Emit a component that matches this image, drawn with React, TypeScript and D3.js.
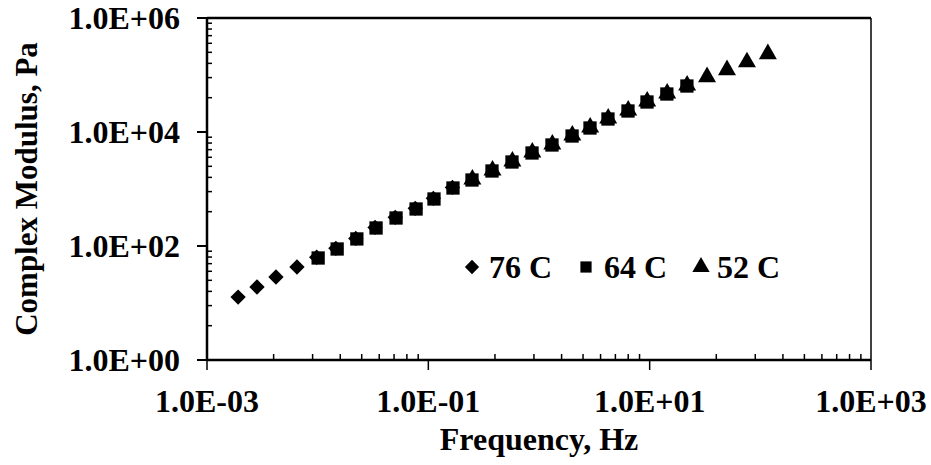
import React, { useEffect, useRef } from 'react';
import * as d3 from 'd3';

// frequency (Hz) / complex modulus (Pa)
const freq76 = [0.00191, 0.00283, 0.0042, 0.0065, 0.0098, 0.0146, 0.0221, 0.033, 0.0502, 0.0762, 0.111, 0.165];
const mod76 = [12.7, 19.1, 28.6, 42.8, 63.5, 91, 136, 212, 318, 458, 685, 1065];

const freq64 = [0.0101, 0.015, 0.0226, 0.0337, 0.0511, 0.0775, 0.1125, 0.167, 0.248, 0.376, 0.57, 0.865, 1.31, 1.99, 2.89, 4.2, 6.37, 9.46, 14.3, 21.7];
const mod64 = [61.6, 88.6, 133, 207, 310, 446, 668, 1041, 1438, 2070, 2977, 4283, 5916, 8505, 11750, 16900, 23360, 33600, 46400, 64100];

const freq52 = [0.25, 0.38, 0.575, 0.87, 1.32, 2.0, 2.9, 4.22, 6.4, 9.5, 14.4, 21.8, 33.0, 50.0, 75.7, 117];
const mod52 = [1480, 2130, 3060, 4400, 6080, 8740, 12080, 17370, 24000, 34500, 47700, 65900, 92300, 122400, 169000, 233600];

const xTickValues = [1e-3, 1e-1, 1e1, 1e3];
const xTickLabels = ['1.0E-03', '1.0E-01', '1.0E+01', '1.0E+03'];
const yTickValues = [1e0, 1e2, 1e4, 1e6];
const yTickLabels = ['1.0E+00', '1.0E+02', '1.0E+04', '1.0E+06'];
const minorSteps = [2, 3, 4, 5, 6, 7, 8, 9];

const seriesNames = ['76 C', '64 C', '52 C'];

const FONT = "'Liberation Serif', 'DejaVu Serif', serif";
const FSIZE = 32;

const App = () => {
    const svgRef = useRef(null);
    const width = 931;
    const height = 465;

    useEffect(() => {
        const margin = { top: 18, right: 60, bottom: 105, left: 207 };
        const innerWidth = width - margin.left - margin.right;
        const innerHeight = height - margin.top - margin.bottom;

        const svg = d3.select(svgRef.current);
        svg.selectAll('*').remove();

        const x = d3.scaleLog().domain([1e-3, 1e3]).range([0, innerWidth]);
        const y = d3.scaleLog().domain([1e0, 1e6]).range([innerHeight, 0]);

        const g = svg.append('g').attr('transform', `translate(${margin.left},${margin.top})`);

        // minor ticks: axis log base 100, so minors sit at base * k^2
        const xMinor = [];
        for (let i = 0; i < xTickValues.length - 1; i++) {
            minorSteps.forEach((k) => xMinor.push(xTickValues[i] * k * k));
        }
        const yMinor = [];
        for (let i = 0; i < yTickValues.length - 1; i++) {
            minorSteps.forEach((k) => yMinor.push(yTickValues[i] * k * k));
        }

        g.selectAll('.xminor').data(xMinor).enter().append('line')
            .attr('x1', (d) => x(d)).attr('x2', (d) => x(d))
            .attr('y1', innerHeight).attr('y2', innerHeight - 6)
            .attr('stroke', '#000').attr('stroke-width', 1.5);

        g.selectAll('.yminor').data(yMinor).enter().append('line')
            .attr('x1', 0).attr('x2', 5)
            .attr('y1', (d) => y(d)).attr('y2', (d) => y(d))
            .attr('stroke', '#000').attr('stroke-width', 1.5);

        // major ticks outside
        g.selectAll('.xmajor').data(xTickValues).enter().append('line')
            .attr('x1', (d) => x(d)).attr('x2', (d) => x(d))
            .attr('y1', innerHeight).attr('y2', innerHeight + 10)
            .attr('stroke', '#000').attr('stroke-width', 1.5);

        g.selectAll('.ymajor').data(yTickValues).enter().append('line')
            .attr('x1', -10).attr('x2', 0)
            .attr('y1', (d) => y(d)).attr('y2', (d) => y(d))
            .attr('stroke', '#000').attr('stroke-width', 2);

        // plot frame
        g.append('line').attr('x1', 0).attr('x2', innerWidth).attr('y1', 0).attr('y2', 0)
            .attr('stroke', '#000').attr('stroke-width', 2.5);
        g.append('line').attr('x1', innerWidth).attr('x2', innerWidth).attr('y1', 0).attr('y2', innerHeight)
            .attr('stroke', '#000').attr('stroke-width', 1.5);
        g.append('line').attr('x1', 0).attr('x2', 0).attr('y1', 0).attr('y2', innerHeight)
            .attr('stroke', '#000').attr('stroke-width', 2.5);
        g.append('line').attr('x1', 0).attr('x2', innerWidth).attr('y1', innerHeight).attr('y2', innerHeight)
            .attr('stroke', '#000').attr('stroke-width', 2.5);

        // tick labels
        g.selectAll('.xlab').data(xTickValues).enter().append('text')
            .attr('x', (d) => x(d)).attr('y', innerHeight + 52)
            .attr('text-anchor', 'middle')
            .attr('font-family', FONT).attr('font-weight', 'bold').attr('font-size', FSIZE)
            .text((_, i) => xTickLabels[i]);

        g.selectAll('.ylab').data(yTickValues).enter().append('text')
            .attr('x', -27).attr('y', (d) => y(d)).attr('dy', '0.35em')
            .attr('text-anchor', 'end')
            .attr('font-family', FONT).attr('font-weight', 'bold').attr('font-size', FSIZE)
            .text((_, i) => yTickLabels[i]);

        // axis titles
        svg.append('text')
            .attr('x', margin.left + innerWidth / 2).attr('y', 450)
            .attr('text-anchor', 'middle')
            .attr('font-family', FONT).attr('font-weight', 'bold').attr('font-size', FSIZE)
            .text('Frequency, Hz');

        svg.append('text')
            .attr('transform', 'rotate(-90)')
            .attr('x', -(margin.top + innerHeight / 2)).attr('y', 37)
            .attr('text-anchor', 'middle')
            .attr('font-family', FONT).attr('font-weight', 'bold').attr('font-size', 31)
            .text('Complex Modulus, Pa');

        const diamond = d3.symbol().type(d3.symbolDiamond2).size(150);
        const square = d3.symbol().type(d3.symbolSquare2).size(225);
        const triangle = d3.symbol().type(d3.symbolTriangle).size(140);

        const drawSeries = (fx, fy, sym) => {
            g.append('g').selectAll('path').data(fx.map((f, i) => [f, fy[i]])).enter().append('path')
                .attr('d', sym)
                .attr('transform', (d) => `translate(${x(d[0])},${y(d[1])})`)
                .attr('fill', '#000');
        };

        drawSeries(freq76, mod76, diamond);
        drawSeries(freq52, mod52, triangle);
        drawSeries(freq64, mod64, square);

        // legend
        const legend = svg.append('g').attr('transform', 'translate(0,267)');
        const legendItems = [
            { sym: d3.symbol().type(d3.symbolDiamond2).size(130), mx: 472, tx: 489 },
            { sym: d3.symbol().type(d3.symbolSquare2).size(160), mx: 586, tx: 604 },
            { sym: d3.symbol().type(d3.symbolTriangle).size(130), mx: 701, tx: 717 },
        ];
        legendItems.forEach((it, i) => {
            legend.append('path').attr('d', it.sym).attr('transform', `translate(${it.mx},0)`).attr('fill', '#000');
            legend.append('text')
                .attr('x', it.tx).attr('y', 0).attr('dy', '0.35em')
                .attr('font-family', FONT).attr('font-weight', 'bold').attr('font-size', FSIZE)
                .text(seriesNames[i]);
        });
    }, []);

    return (
        <div>
            <style>{'body { margin: 0; background: #fff; }'}</style>
            <svg ref={svgRef} width={width} height={height} style={{ display: 'block' }}></svg>
        </div>
    );
};

export default App;
